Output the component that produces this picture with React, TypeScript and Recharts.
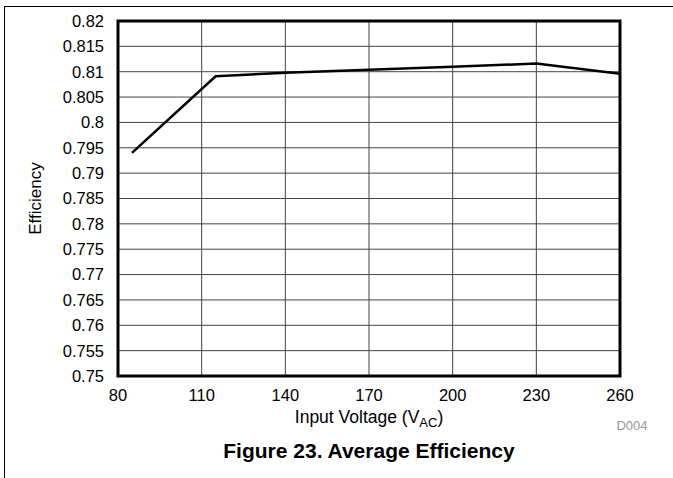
import React from "react";
import { LineChart, Line, XAxis, YAxis, CartesianGrid, ReferenceArea } from "recharts";

// Input voltage (VAC) vs. average efficiency
const voltages = [85, 115, 140, 170, 200, 230, 260];
const efficiency = [0.794, 0.8091, 0.8098, 0.8104, 0.811, 0.8116, 0.8096];

const xTicks = [80, 110, 140, 170, 200, 230, 260];
const yTicks = [
  0.75, 0.755, 0.76, 0.765, 0.77, 0.775, 0.78, 0.785, 0.79, 0.795, 0.8, 0.805, 0.81, 0.815, 0.82,
];

const data = voltages.map((v, i) => ({ v, eff: efficiency[i] }));

const font = "Arial, 'Liberation Sans', Helvetica, sans-serif";

function XLabel(props: any) {
  const { viewBox } = props;
  const cx = viewBox.x + viewBox.width / 2;
  const y = viewBox.y + 47;
  return (
    <text x={cx} y={y} textAnchor="middle" fontSize={17.5} fill="#000" fontFamily={font}>
      <tspan>Input Voltage (V</tspan>
      <tspan fontSize={13} dy={4}>AC</tspan>
      <tspan dy={-4}>)</tspan>
    </text>
  );
}

export default function App() {
  return (
    <div
      style={{
        position: "absolute",
        left: 0,
        top: 0,
        width: 673,
        height: 478,
        background: "#fff",
        fontFamily: font,
      }}
    >
      {/* figure frame: top and left rules */}
      <div style={{ position: "absolute", left: 4, top: 6, width: 669, height: 1, background: "#000" }} />
      <div style={{ position: "absolute", left: 4, top: 6, width: 1, height: 472, background: "#000" }} />

      <div style={{ position: "absolute", left: 0, top: 0 }}>
        <LineChart
          width={673}
          height={478}
          data={data}
          margin={{ top: 21, right: 53, bottom: 72, left: 58 }}
        >
          <CartesianGrid stroke="#444" strokeWidth={1} horizontalValues={yTicks} verticalValues={xTicks} />
          <XAxis
            dataKey="v"
            type="number"
            domain={[80, 260]}
            ticks={xTicks}
            height={30}
            axisLine={false}
            tickLine={false}
            tick={{ fontSize: 16.5, fill: "#000", fontFamily: font }}
            tickMargin={7}
            interval={0}
            label={<XLabel />}
          />
          <YAxis
            type="number"
            domain={[0.75, 0.82]}
            ticks={yTicks}
            width={60}
            axisLine={false}
            tickLine={false}
            interval={0}
            tickMargin={8}
            tickFormatter={(t: number) => String(+t.toFixed(3))}
            tick={{ fontSize: 16.5, fill: "#000", fontFamily: font }}
            label={{
              value: "Efficiency",
              angle: -90,
              position: "insideLeft",
              offset: -23,
              style: { fontSize: 17, fill: "#000", fontFamily: font, textAnchor: "middle" },
            }}
          />
          <ReferenceArea
            x1={80}
            x2={260}
            y1={0.75}
            y2={0.82}
            fill="none"
            stroke="#000"
            strokeWidth={3}
            ifOverflow="visible"
          />
          <Line
            type="linear"
            dataKey="eff"
            stroke="#000"
            strokeWidth={2.5}
            dot={false}
            isAnimationActive={false}
          />
        </LineChart>
      </div>

      <div
        style={{
          position: "absolute",
          left: 600,
          top: 418,
          width: 64,
          textAlign: "center",
          fontSize: 13,
          color: "#999",
        }}
      >
        D004
      </div>
      <div
        style={{
          position: "absolute",
          left: 118,
          top: 439,
          width: 502,
          textAlign: "center",
          fontSize: 21,
          fontWeight: "bold",
          color: "#000",
        }}
      >
        Figure 23. Average Efficiency
      </div>
    </div>
  );
}
